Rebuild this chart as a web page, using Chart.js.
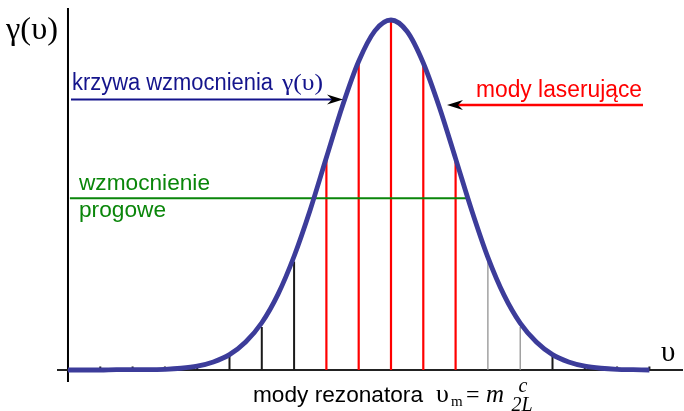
<!DOCTYPE html>
<html>
<head>
<meta charset="utf-8">
<script src="https://cdn.jsdelivr.net/npm/chart.js@4"></script>
<style>
  html, body { margin: 0; padding: 0; background: #fff; }
  canvas { display: block; }
</style>
</head>
<body>
<canvas id="gainChart" width="684" height="411"></canvas>
<script>
// Gain curve gamma(v) (x in units of mode spacing, 0 = line centre)
const curveX = [-10, -9.5, -9, -8.5, -8, -7.5, -7, -6.5, -6, -5.5, -5, -4.5, -4, -3.5, -3, -2.5, -2, -1.5, -1, -0.5,
                0, 0.5, 1, 1.5, 2, 2.5, 3, 3.5, 4, 4.5, 5, 5.5, 6, 6.5, 7, 7.5, 8];
const curveGain = [0, 0, 0, 0.001, 0.001, 0.001, 0.002, 0.005, 0.011, 0.023, 0.044, 0.08, 0.135, 0.216, 0.325, 0.458, 0.607, 0.755, 0.882, 0.969,
                   1, 0.967, 0.877, 0.75, 0.604, 0.456, 0.322, 0.214, 0.134, 0.08, 0.044, 0.023, 0.011, 0.005, 0.002, 0.001, 0];

// Resonator modes and the gain each one sees
const modeNumbers = [-9, -8, -7, -6, -5, -4, -3, -2, -1, 0, 1, 2, 3, 4, 5, 6, 7, 8];
const modeGain = [0.01, 0.01, 0.01, 0.012, 0.04, 0.123, 0.31, 0.6, 0.88, 1.0, 0.869, 0.594, 0.32, 0.123, 0.04, 0.012, 0.01, 0.01];

// Threshold gain and the span of its line
const thresholdGain = 0.491;
const thresholdSpan = [-9.94, 2.35];

// Texts
const yAxisTitle = 'γ(υ)';
const xAxisTitle = 'υ';
const curveLabel = 'krzywa wzmocnienia';
const curveSymbol = 'γ(υ)';
const lasingLabel = 'mody laserujące';
const thresholdLabel = ['wzmocnienie', 'progowe'];
const modesLabel = 'mody rezonatora';

const SANS = '"Liberation Sans", Arial, sans-serif';
const SERIF = '"Liberation Serif", "Times New Roman", serif';

// Build vertical segments (0 -> gain) for the modes that pass a test, broken by nulls
function modeSegments(test) {
    const pts = [];
    modeNumbers.forEach((m, i) => {
        const g = modeGain[i];
        if (test(m, g)) {
            pts.push({ x: m, y: 0 }, { x: m, y: g }, { x: m, y: null });
        }
    });
    return pts;
}

function drawArrowHead(ctx, tipX, tipY, dir) {
    // stealth-style arrow head, dir = 1 points right, -1 points left
    ctx.save();
    ctx.fillStyle = '#000';
    ctx.beginPath();
    ctx.moveTo(tipX, tipY);
    ctx.lineTo(tipX - dir * 16, tipY - 5);
    ctx.lineTo(tipX - dir * 11, tipY);
    ctx.lineTo(tipX - dir * 16, tipY + 5);
    ctx.closePath();
    ctx.fill();
    ctx.restore();
}

// Draw text squeezed/stretched to a given width
function fitText(ctx, text, x, y, width, font, color) {
    ctx.save();
    ctx.font = font;
    ctx.fillStyle = color;
    ctx.textBaseline = 'alphabetic';
    ctx.textAlign = 'left';
    const w = ctx.measureText(text).width;
    ctx.translate(x, y);
    ctx.scale(width / w, 1);
    ctx.fillText(text, 0, 0);
    ctx.restore();
}

function plainText(ctx, text, x, y, font, color, align) {
    ctx.save();
    ctx.font = font;
    ctx.fillStyle = color;
    ctx.textBaseline = 'alphabetic';
    ctx.textAlign = align || 'left';
    ctx.fillText(text, x, y);
    ctx.restore();
}

// Axes: drawn before the datasets so the curve lies on top
const axesPlugin = {
    id: 'axesPlugin',
    beforeDatasetsDraw(chart) {
        const ctx = chart.ctx;
        const xs = chart.scales.x, ys = chart.scales.y, area = chart.chartArea;
        const x0 = xs.getPixelForValue(curveX[0]);
        const y0 = ys.getPixelForValue(0);
        ctx.save();
        ctx.lineWidth = 2;
        ctx.strokeStyle = '#000';
        ctx.beginPath();
        ctx.moveTo(x0, area.top);
        ctx.lineTo(x0, area.bottom);
        ctx.stroke();
        ctx.strokeStyle = '#222';
        ctx.beginPath();
        ctx.moveTo(area.left, y0);
        ctx.lineTo(area.right, y0);
        ctx.stroke();
        ctx.restore();
    }
};

// Labels and arrows
const labelsPlugin = {
    id: 'labelsPlugin',
    afterDraw(chart) {
        const ctx = chart.ctx;

        // axis titles
        fitText(ctx, yAxisTitle, 6, 39, 52, '32px ' + SERIF, '#000');
        plainText(ctx, xAxisTitle, 661, 361, '29px ' + SERIF, '#000');

        // curve label with arrow
        fitText(ctx, curveLabel, 72, 90, 201, '23px ' + SANS, '#14148c');
        fitText(ctx, curveSymbol, 282, 90, 41, '23px ' + SERIF, '#14148c');
        ctx.save();
        ctx.strokeStyle = '#14148c';
        ctx.lineWidth = 2;
        ctx.beginPath();
        ctx.moveTo(71, 99.5);
        ctx.lineTo(332, 99.5);
        ctx.stroke();
        ctx.restore();
        drawArrowHead(ctx, 343, 99.5, 1);

        // lasing modes label with arrow
        fitText(ctx, lasingLabel, 476, 97, 166, '23px ' + SANS, '#ff0000');
        ctx.save();
        ctx.strokeStyle = '#ff0000';
        ctx.lineWidth = 2.5;
        ctx.beginPath();
        ctx.moveTo(643, 105);
        ctx.lineTo(458, 105);
        ctx.stroke();
        ctx.restore();
        drawArrowHead(ctx, 447, 105, -1);

        // threshold label
        fitText(ctx, thresholdLabel[0], 79, 190, 131, '22px ' + SANS, '#0a860a');
        fitText(ctx, thresholdLabel[1], 79, 217, 87, '22px ' + SANS, '#0a860a');

        // bottom label: mody rezonatora v_m = m c / 2L
        fitText(ctx, modesLabel, 253, 402, 170, '22px ' + SANS, '#000');
        plainText(ctx, 'υ', 436, 402, '26px ' + SERIF, '#000');
        plainText(ctx, 'm', 451, 406, '15px ' + SERIF, '#000');
        plainText(ctx, '=', 466, 402, '24px ' + SERIF, '#000');
        plainText(ctx, 'm', 486, 402, 'italic 25px ' + SERIF, '#000');
        plainText(ctx, 'c', 523, 392, 'italic 20px ' + SERIF, '#000', 'center');
        plainText(ctx, '2L', 522, 411, 'italic 20px ' + SERIF, '#000', 'center');
    }
};

const ctx = document.getElementById('gainChart').getContext('2d');
const chart = new Chart(ctx, {
    type: 'line',
    data: {
        datasets: [
            {
                label: 'krzywa wzmocnienia',
                data: curveX.map((x, i) => ({ x: x, y: curveGain[i] })),
                borderColor: '#3c3c9a',
                borderWidth: 4.8,
                pointRadius: 0,
                cubicInterpolationMode: 'monotone',
                fill: false,
                order: 0
            },
            {
                label: 'wzmocnienie progowe',
                data: thresholdSpan.map(x => ({ x: x, y: thresholdGain })),
                borderColor: '#0a860a',
                borderWidth: 2,
                pointRadius: 0,
                order: 1
            },
            {
                label: 'mody laserujące',
                data: modeSegments((m, g) => g > thresholdGain),
                borderColor: '#ff0000',
                borderWidth: 2.2,
                pointRadius: 0,
                spanGaps: false,
                order: 2
            },
            {
                label: 'mody (prawe)',
                data: modeSegments((m, g) => m > 0 && g <= thresholdGain && g > 0.1),
                borderColor: '#8a8a8a',
                borderWidth: 1.2,
                pointRadius: 0,
                spanGaps: false,
                order: 2
            },
            {
                label: 'mody',
                data: modeSegments((m, g) => g <= thresholdGain && !(m > 0 && g > 0.1)),
                borderColor: '#1a1a1a',
                borderWidth: 2,
                pointRadius: 0,
                spanGaps: false,
                order: 2
            }
        ]
    },
    options: {
        responsive: false,
        animation: false,
        layout: { padding: { left: 57, right: 1, top: 8, bottom: 29 } },
        scales: {
            x: { type: 'linear', min: -10.34, max: 9.04, display: false },
            y: { type: 'linear', min: -0.0343, max: 1.0343, display: false }
        },
        plugins: {
            legend: { display: false },
            tooltip: { enabled: false }
        }
    },
    plugins: [axesPlugin, labelsPlugin]
});
</script>
</body>
</html>
